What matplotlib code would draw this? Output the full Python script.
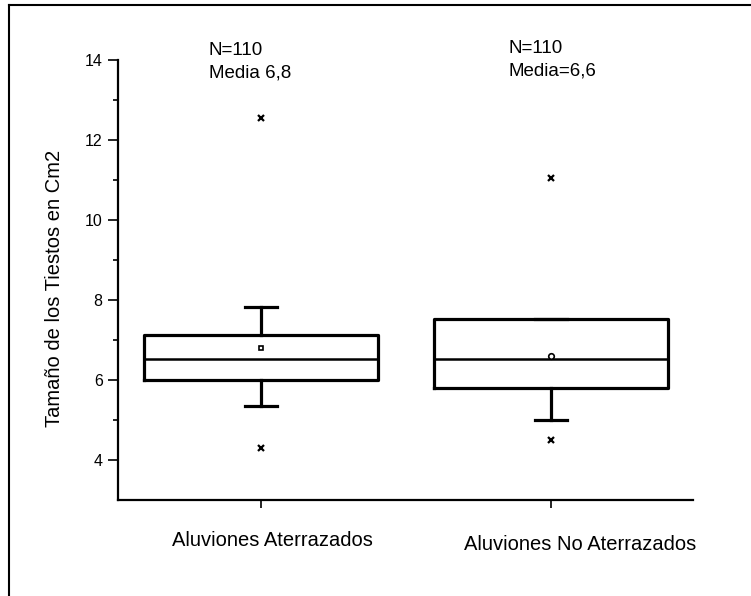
import matplotlib
matplotlib.use("Agg")
import matplotlib.pyplot as plt
from matplotlib.lines import Line2D
import matplotlib.transforms as mtransforms

plt.rcParams['font.family'] = ['Liberation Sans', 'DejaVu Sans']

# Summary statistics for each group (tile size, cm2)
categories = ["Aluviones Aterrazados", "Aluviones No Aterrazados"]
q1_vals = [6.0, 5.8]
median_vals = [6.53, 6.52]
q3_vals = [7.12, 7.52]
whisker_low = [5.35, 5.0]
whisker_high = [7.82, 7.52]
mean_vals = [6.8, 6.6]
outliers = [[4.3, 12.55], [4.5, 11.05]]
n_labels = ["N=110", "N=110"]
mean_labels = ["Media 6,8", "Media=6,6"]
y_ticks = [4, 6, 8, 10, 12, 14]

fig = plt.figure(figsize=(7.51, 5.96), dpi=100)
ax = fig.add_axes([118 / 751, 96 / 596, 575 / 751, 440 / 596])

positions = [1, 2]
stats = []
for i, name in enumerate(categories):
    stats.append(dict(label=name, q1=q1_vals[i], med=median_vals[i], q3=q3_vals[i],
                      whislo=whisker_low[i], whishi=whisker_high[i],
                      mean=mean_vals[i], fliers=outliers[i]))

parts = ax.bxp(stats, positions=positions, widths=0.807, showmeans=True, showfliers=True,
               boxprops=dict(color='black', linewidth=2.3),
               medianprops=dict(color='black', linewidth=1.8),
               whiskerprops=dict(color='black', linewidth=2.3),
               capprops=dict(color='black', linewidth=2.3),
               capwidths=0.112,
               meanprops=dict(marker='s', markersize=3.5, markerfacecolor='white',
                              markeredgecolor='black', markeredgewidth=1.2),
               flierprops=dict(marker='x', markersize=4, markeredgecolor='black',
                               markeredgewidth=1.6))
# second group's mean drawn as a small ring
parts['means'][1].set_marker('o')
parts['means'][1].set_markersize(4)

ax.set_xlim(0.507, 2.49)
ax.set_ylim(3, 14)
ax.spines['top'].set_visible(False)
ax.spines['right'].set_visible(False)
ax.spines['left'].set_linewidth(1.6)
ax.spines['bottom'].set_linewidth(1.6)

ax.set_yticks(y_ticks)
ax.set_yticks([5, 7, 9, 11, 13], minor=True)
ax.tick_params(axis='y', which='major', direction='out', length=7, width=1.2,
               labelsize=11.5, pad=4)
ax.tick_params(axis='y', which='minor', direction='out', length=3.5, width=1.2)
ax.set_xticks(positions)
ax.set_xticklabels(["", ""])
ax.tick_params(axis='x', direction='out', length=6, width=1.2)

ax.set_ylabel("Tamaño de los Tiestos en Cm2", fontsize=14.5)
ax.yaxis.set_label_coords(-0.094, 0.48)

# Category names below the axis
trans = mtransforms.blended_transform_factory(ax.transData, ax.transAxes)
ax.text(1.041, -0.091, categories[0], transform=trans, ha='center', va='center',
        fontsize=14.5)
ax.text(2.10, -0.102, categories[1], transform=trans, ha='center', va='center',
        fontsize=14.5)

# Sample size and mean annotations above each box
ax.text(0.82, 14.12, n_labels[0], ha='left', va='baseline', fontsize=13.5)
ax.text(0.82, 13.55, mean_labels[0], ha='left', va='baseline', fontsize=13.5)
ax.text(1.855, 14.17, n_labels[1], ha='left', va='baseline', fontsize=13.5)
ax.text(1.855, 13.60, mean_labels[1], ha='left', va='baseline', fontsize=13.5)

# Outer frame lines (top and left edges)
fig.add_artist(Line2D([9 / 751, 1.0], [1 - 5 / 596, 1 - 5 / 596],
                      transform=fig.transFigure, color='black', linewidth=1.5))
fig.add_artist(Line2D([9 / 751, 9 / 751], [0.0, 1 - 5 / 596],
                      transform=fig.transFigure, color='black', linewidth=1.5))

fig.savefig("out.png", dpi=100)
